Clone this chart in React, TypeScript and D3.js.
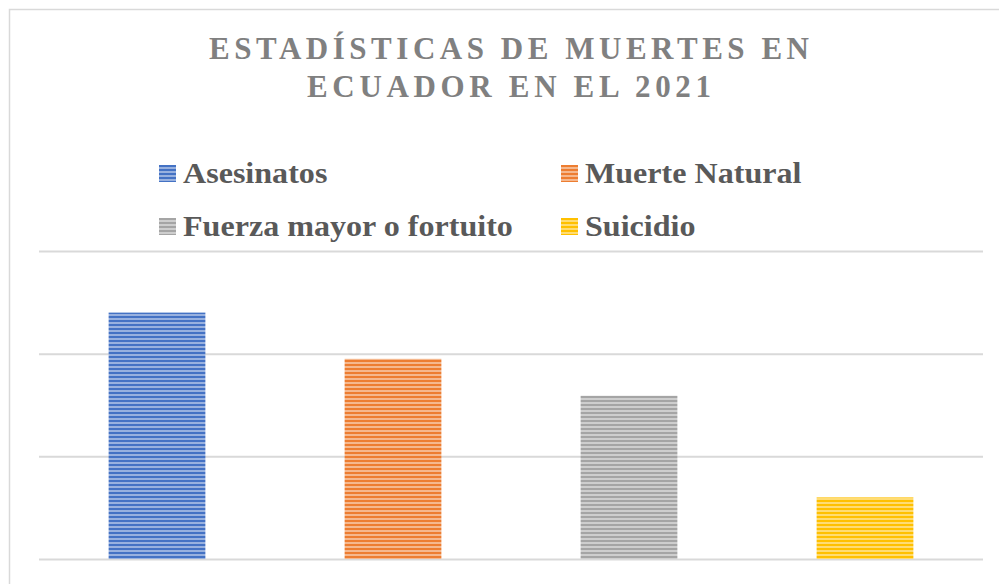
import React, { useEffect, useRef } from "react";
import * as d3 from "d3";

// categories and values (deaths; gridlines every 1000)
const categories = ["Asesinatos", "Muerte Natural", "Fuerza mayor o fortuito", "Suicidio"];
const values = [2400, 1950, 1590, 600];
const yTicks = [0, 1000, 2000, 3000];
const titleLines = ["ESTADÍSTICAS DE MUERTES EN", "ECUADOR EN EL 2021"];
const titleWidths = [600, 404];

const colors = ["#4472C4", "#ED7D31", "#A5A5A5", "#FFC000"];
const serif = "Liberation Serif, Tinos, serif";

const App = () => {
    const svgRef = useRef<SVGSVGElement>(null);

    useEffect(() => {
        const W = 999;
        const H = 584;
        const svg = d3.select(svgRef.current).attr("width", W).attr("height", H);
        svg.selectAll("*").remove();

        const plot = { left: 39, right: 983, top: 251, bottom: 559 };

        const x = d3.scaleBand().domain(categories).range([plot.left, plot.right]).padding(0);
        const y = d3.scaleLinear().domain([0, 3000]).range([plot.bottom, plot.top]);
        const barW = x.bandwidth() * 0.41;

        // striped fills
        const defs = svg.append("defs");
        colors.forEach((c, i) => {
            const light = d3.interpolateRgb(c, "#ffffff")(0.45);
            const p = defs
                .append("pattern")
                .attr("id", `stripe${i}`)
                .attr("patternUnits", "userSpaceOnUse")
                .attr("width", 8)
                .attr("height", 4);
            p.append("rect").attr("width", 8).attr("height", 4).attr("fill", light);
            p.append("rect").attr("width", 8).attr("height", 2).attr("fill", c);
        });

        svg.append("rect").attr("width", W).attr("height", H).attr("fill", "#fff");

        // chart border
        svg.append("rect")
            .attr("x", 9.5)
            .attr("y", 9.5)
            .attr("width", W + 10)
            .attr("height", H + 10)
            .attr("fill", "none")
            .attr("stroke", "#d9d9d9")
            .attr("stroke-width", 1.5);

        // title
        svg.append("g")
            .selectAll("text")
            .data(titleLines)
            .enter()
            .append("text")
            .attr("x", 509)
            .attr("y", (d, i) => 59 + i * 38)
            .attr("text-anchor", "middle")
            .attr("textLength", (d, i) => titleWidths[i])
            .attr("lengthAdjust", "spacing")
            .style("font-family", serif)
            .style("font-weight", "bold")
            .style("font-size", "31px")
            .attr("fill", "#808080")
            .text((d) => d);

        // legend
        const legend = svg
            .append("g")
            .selectAll("g")
            .data(categories)
            .enter()
            .append("g")
            .attr("transform", (d, i) => `translate(${i % 2 === 0 ? 159 : 561},${i < 2 ? 165 : 218})`);
        legend
            .append("rect")
            .attr("width", 17)
            .attr("height", 17)
            .attr("fill", (d, i) => `url(#stripe${i})`);
        legend
            .append("text")
            .attr("transform", "translate(24,17.5) scale(1.07,1)")
            .style("font-family", serif)
            .style("font-weight", "bold")
            .style("font-size", "30px")
            .attr("fill", "#595959")
            .text((d) => d);

        // gridlines
        svg.append("g")
            .attr("transform", `translate(${plot.left},0)`)
            .call(
                d3
                    .axisLeft(y)
                    .tickValues(yTicks)
                    .tickSize(-(plot.right - plot.left))
                    .tickFormat(() => "")
            )
            .call((g) => g.select(".domain").remove())
            .call((g) => g.selectAll(".tick line").attr("stroke", "#d9d9d9").attr("stroke-width", 2));

        // bars
        svg.append("g")
            .selectAll("rect")
            .data(values)
            .enter()
            .append("rect")
            .attr("x", (d, i) => x(categories[i])! + (x.bandwidth() - barW) / 2)
            .attr("y", (d) => y(d))
            .attr("width", barW)
            .attr("height", (d) => y(0) - y(d))
            .attr("fill", (d, i) => `url(#stripe${i})`);
    }, []);

    return (
        <div style={{ position: "absolute", left: 0, top: 0, width: 999, height: 584 }}>
            <svg ref={svgRef} style={{ display: "block" }}></svg>
        </div>
    );
};

export default App;
